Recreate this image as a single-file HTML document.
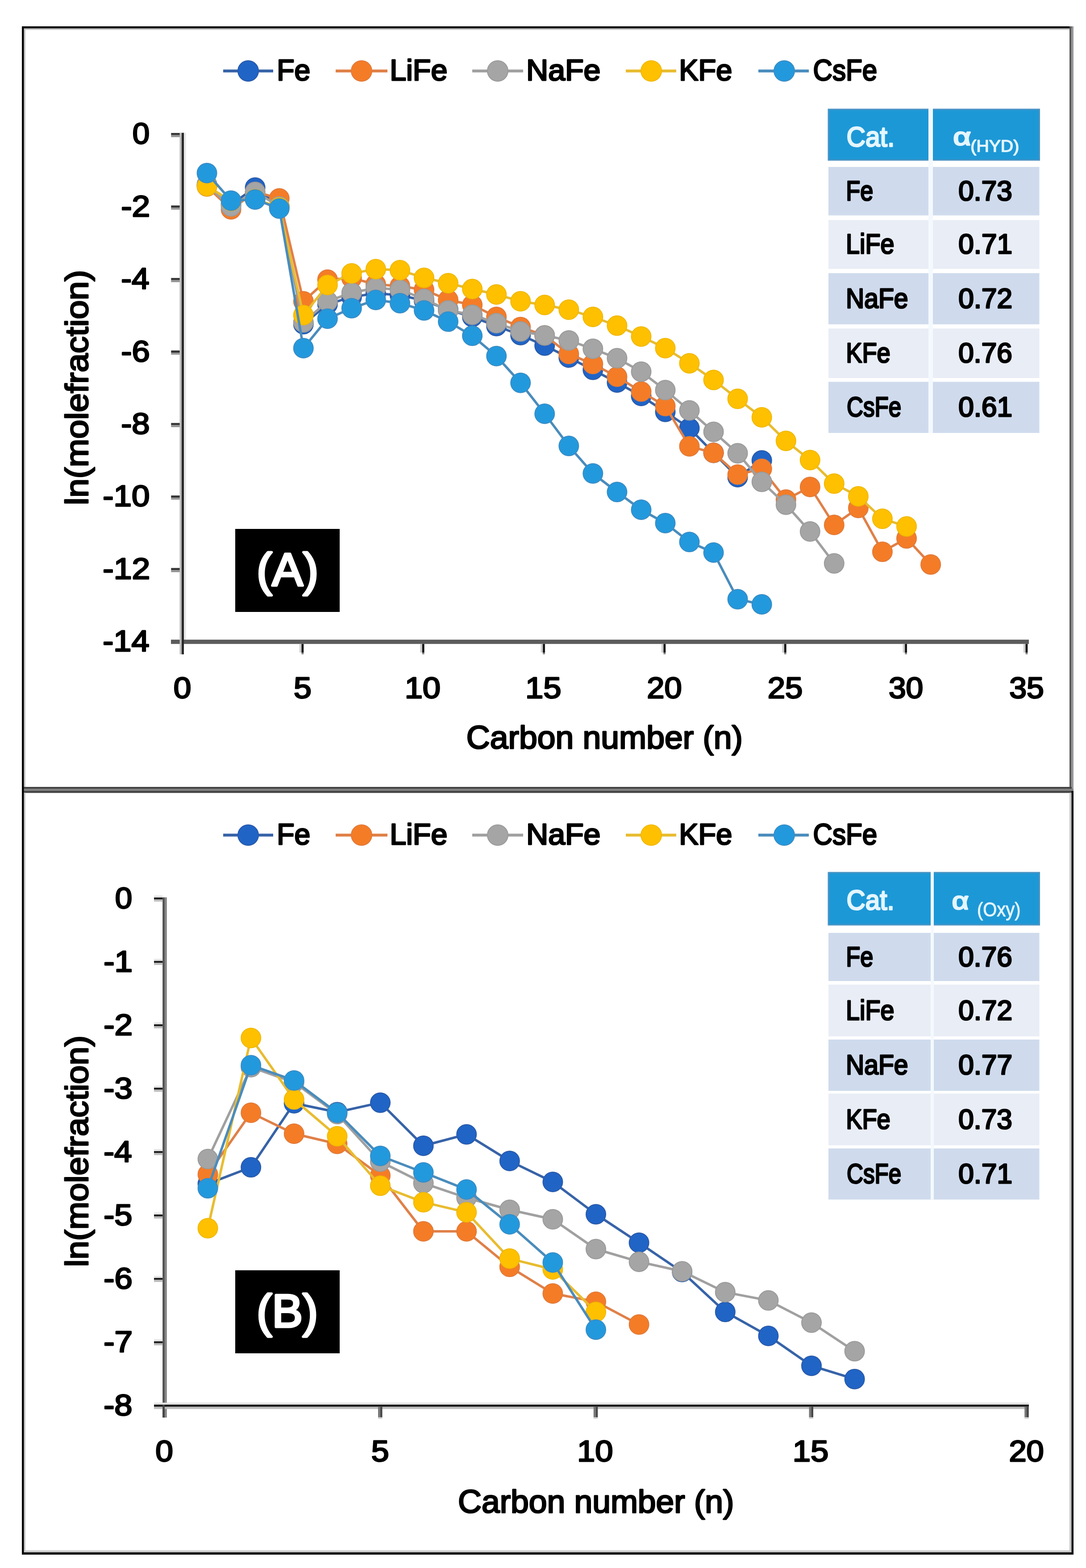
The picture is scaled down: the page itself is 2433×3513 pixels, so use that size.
<!DOCTYPE html><html><head><meta charset="utf-8"><title>ln(molefraction) vs Carbon number</title>
<style>html,body{margin:0;padding:0;background:#fff;overflow:hidden;}svg{display:block;}text{font-family:"Liberation Sans", Arial, sans-serif;font-kerning:none;}</style></head><body>
<svg width="2433" height="3513" viewBox="0 0 2433 3513">
<rect x="0" y="0" width="2433" height="3513" fill="#ffffff"/>
<rect x="53" y="63" width="2343" height="4" fill="#c8c8c8"/>
<rect x="53" y="63" width="4" height="1700" fill="#c8c8c8"/>
<rect x="49" y="59" width="2352" height="4.5" fill="#000"/>
<rect x="2396" y="59" width="4.5" height="1708" fill="#585858"/>
<rect x="2400.5" y="59" width="4.5" height="1711" fill="#979797"/>
<rect x="49" y="1763" width="2352" height="4" fill="#444"/>
<rect x="49" y="1767" width="2356" height="5" fill="#808080"/>
<rect x="49" y="1772" width="2356" height="4.5" fill="#444"/>
<rect x="53" y="1776" width="4" height="1702" fill="#c8c8c8"/>
<rect x="2396" y="1776" width="4.5" height="1702" fill="#c8c8c8"/>
<rect x="53" y="3473.5" width="2347" height="4.5" fill="#c8c8c8"/>
<rect x="2400.5" y="1772" width="4.5" height="1711" fill="#000"/>
<rect x="49" y="3478" width="2356" height="5" fill="#000"/>
<rect x="49" y="59" width="4.5" height="3424" fill="#000"/>
<line x1="500" y1="159.0" x2="612" y2="159.0" stroke="#3763a8" stroke-width="6.5"/>
<circle cx="556" cy="159.0" r="23.0" fill="#2064c6" stroke="#2a5aa8" stroke-width="2"/>
<text x="620.33" y="179.50" font-size="66.00" font-weight="normal" fill="#000" stroke="#000" stroke-width="3.20" stroke-linejoin="round" textLength="74.92" lengthAdjust="spacingAndGlyphs">Fe</text>
<line x1="752" y1="159.0" x2="868" y2="159.0" stroke="#e08048" stroke-width="6.5"/>
<circle cx="810" cy="159.0" r="23.0" fill="#f57c26" stroke="#e07a3a" stroke-width="2"/>
<text x="873.15" y="179.50" font-size="66.00" font-weight="normal" fill="#000" stroke="#000" stroke-width="3.20" stroke-linejoin="round" textLength="129.20" lengthAdjust="spacingAndGlyphs">LiFe</text>
<line x1="1058" y1="159.0" x2="1172" y2="159.0" stroke="#a0a0a0" stroke-width="6.5"/>
<circle cx="1115" cy="159.0" r="23.0" fill="#a5a5a5" stroke="#9a9a9a" stroke-width="2"/>
<text x="1179.02" y="179.50" font-size="66.00" font-weight="normal" fill="#000" stroke="#000" stroke-width="3.20" stroke-linejoin="round" textLength="166.41" lengthAdjust="spacingAndGlyphs">NaFe</text>
<line x1="1402" y1="159.0" x2="1515" y2="159.0" stroke="#e8bc30" stroke-width="6.5"/>
<circle cx="1459" cy="159.0" r="23.0" fill="#ffc000" stroke="#f0b800" stroke-width="2"/>
<text x="1521.28" y="179.50" font-size="66.00" font-weight="normal" fill="#000" stroke="#000" stroke-width="3.20" stroke-linejoin="round" textLength="119.01" lengthAdjust="spacingAndGlyphs">KFe</text>
<line x1="1699" y1="159.0" x2="1812" y2="159.0" stroke="#4a8cbc" stroke-width="6.5"/>
<circle cx="1757" cy="159.0" r="23.0" fill="#2399dd" stroke="#3a8cc4" stroke-width="2"/>
<text x="1821.55" y="179.50" font-size="66.00" font-weight="normal" fill="#000" stroke="#000" stroke-width="3.20" stroke-linejoin="round" textLength="143.52" lengthAdjust="spacingAndGlyphs">CsFe</text>
<rect x="383.00" y="1433.10" width="1922.00" height="9.60" fill="#5c5c5c"/>
<rect x="383.30" y="297.90" width="23.70" height="4.80" fill="#333"/>
<rect x="383.30" y="302.70" width="23.70" height="4.60" fill="#959595"/>
<text x="296.80" y="322.18" font-size="67.00" font-weight="normal" fill="#000" stroke="#000" stroke-width="3.00" stroke-linejoin="round" textLength="38.39" lengthAdjust="spacingAndGlyphs">0</text>
<rect x="383.30" y="460.34" width="23.70" height="4.80" fill="#333"/>
<rect x="383.30" y="465.14" width="23.70" height="4.60" fill="#959595"/>
<text x="271.26" y="484.62" font-size="67.00" font-weight="normal" fill="#000" stroke="#000" stroke-width="3.00" stroke-linejoin="round" textLength="64.92" lengthAdjust="spacingAndGlyphs">-2</text>
<rect x="383.30" y="622.78" width="23.70" height="4.80" fill="#333"/>
<rect x="383.30" y="627.58" width="23.70" height="4.60" fill="#959595"/>
<text x="271.34" y="647.06" font-size="67.00" font-weight="normal" fill="#000" stroke="#000" stroke-width="3.00" stroke-linejoin="round" textLength="63.24" lengthAdjust="spacingAndGlyphs">-4</text>
<rect x="383.30" y="785.22" width="23.70" height="4.80" fill="#333"/>
<rect x="383.30" y="790.02" width="23.70" height="4.60" fill="#959595"/>
<text x="271.28" y="809.50" font-size="67.00" font-weight="normal" fill="#000" stroke="#000" stroke-width="3.00" stroke-linejoin="round" textLength="64.40" lengthAdjust="spacingAndGlyphs">-6</text>
<rect x="383.30" y="947.66" width="23.70" height="4.80" fill="#333"/>
<rect x="383.30" y="952.46" width="23.70" height="4.60" fill="#959595"/>
<text x="271.28" y="971.94" font-size="67.00" font-weight="normal" fill="#000" stroke="#000" stroke-width="3.00" stroke-linejoin="round" textLength="64.36" lengthAdjust="spacingAndGlyphs">-8</text>
<rect x="383.30" y="1110.10" width="23.70" height="4.80" fill="#333"/>
<rect x="383.30" y="1114.90" width="23.70" height="4.60" fill="#959595"/>
<text x="230.27" y="1134.38" font-size="67.00" font-weight="normal" fill="#000" stroke="#000" stroke-width="3.00" stroke-linejoin="round" textLength="105.07" lengthAdjust="spacingAndGlyphs">-10</text>
<rect x="383.30" y="1272.54" width="23.70" height="4.80" fill="#333"/>
<rect x="383.30" y="1277.34" width="23.70" height="4.60" fill="#959595"/>
<text x="230.24" y="1296.82" font-size="67.00" font-weight="normal" fill="#000" stroke="#000" stroke-width="3.00" stroke-linejoin="round" textLength="105.94" lengthAdjust="spacingAndGlyphs">-12</text>
<text x="230.29" y="1459.26" font-size="67.00" font-weight="normal" fill="#000" stroke="#000" stroke-width="3.00" stroke-linejoin="round" textLength="104.32" lengthAdjust="spacingAndGlyphs">-14</text>
<rect x="402.50" y="297.50" width="4.50" height="1168.50" fill="#bdbdbd"/>
<rect x="407.00" y="297.50" width="5.00" height="1168.50" fill="#2a2a2a"/>
<rect x="412.00" y="297.50" width="4.80" height="1135.50" fill="#e8e8e8"/>
<rect x="670.85" y="1442.70" width="4.60" height="19.30" fill="#cfcfcf"/>
<rect x="675.45" y="1442.70" width="4.80" height="19.30" fill="#161616"/>
<rect x="675.45" y="1462.00" width="4.80" height="4.00" fill="#888"/>
<text x="657.98" y="1564.00" font-size="67.00" font-weight="normal" fill="#000" stroke="#000" stroke-width="3.00" stroke-linejoin="round" textLength="39.88" lengthAdjust="spacingAndGlyphs">5</text>
<rect x="941.20" y="1442.70" width="4.60" height="19.30" fill="#cfcfcf"/>
<rect x="945.80" y="1442.70" width="4.80" height="19.30" fill="#161616"/>
<rect x="945.80" y="1462.00" width="4.80" height="4.00" fill="#888"/>
<text x="906.70" y="1564.00" font-size="67.00" font-weight="normal" fill="#000" stroke="#000" stroke-width="3.00" stroke-linejoin="round" textLength="80.32" lengthAdjust="spacingAndGlyphs">10</text>
<rect x="1211.55" y="1442.70" width="4.60" height="19.30" fill="#cfcfcf"/>
<rect x="1216.15" y="1442.70" width="4.80" height="19.30" fill="#161616"/>
<rect x="1216.15" y="1462.00" width="4.80" height="4.00" fill="#888"/>
<text x="1177.03" y="1564.00" font-size="67.00" font-weight="normal" fill="#000" stroke="#000" stroke-width="3.00" stroke-linejoin="round" textLength="80.56" lengthAdjust="spacingAndGlyphs">15</text>
<rect x="1481.90" y="1442.70" width="4.60" height="19.30" fill="#cfcfcf"/>
<rect x="1486.50" y="1442.70" width="4.80" height="19.30" fill="#161616"/>
<rect x="1486.50" y="1462.00" width="4.80" height="4.00" fill="#888"/>
<text x="1449.36" y="1564.00" font-size="67.00" font-weight="normal" fill="#000" stroke="#000" stroke-width="3.00" stroke-linejoin="round" textLength="78.29" lengthAdjust="spacingAndGlyphs">20</text>
<rect x="1752.25" y="1442.70" width="4.60" height="19.30" fill="#cfcfcf"/>
<rect x="1756.85" y="1442.70" width="4.80" height="19.30" fill="#161616"/>
<rect x="1756.85" y="1462.00" width="4.80" height="4.00" fill="#888"/>
<text x="1719.70" y="1564.00" font-size="67.00" font-weight="normal" fill="#000" stroke="#000" stroke-width="3.00" stroke-linejoin="round" textLength="78.51" lengthAdjust="spacingAndGlyphs">25</text>
<rect x="2022.60" y="1442.70" width="4.60" height="19.30" fill="#cfcfcf"/>
<rect x="2027.20" y="1442.70" width="4.80" height="19.30" fill="#161616"/>
<rect x="2027.20" y="1462.00" width="4.80" height="4.00" fill="#888"/>
<text x="1990.95" y="1564.00" font-size="67.00" font-weight="normal" fill="#000" stroke="#000" stroke-width="3.00" stroke-linejoin="round" textLength="77.37" lengthAdjust="spacingAndGlyphs">30</text>
<rect x="2292.95" y="1442.70" width="4.60" height="19.30" fill="#cfcfcf"/>
<rect x="2297.55" y="1442.70" width="4.80" height="19.30" fill="#161616"/>
<rect x="2297.55" y="1462.00" width="4.80" height="4.00" fill="#888"/>
<text x="2261.29" y="1564.00" font-size="67.00" font-weight="normal" fill="#000" stroke="#000" stroke-width="3.00" stroke-linejoin="round" textLength="77.59" lengthAdjust="spacingAndGlyphs">35</text>
<text x="388.72" y="1564.00" font-size="67.00" font-weight="normal" fill="#000" stroke="#000" stroke-width="3.00" stroke-linejoin="round" textLength="39.56" lengthAdjust="spacingAndGlyphs">0</text>
<text x="-1131.65" y="0.00" font-size="72.00" font-weight="normal" fill="#000" stroke="#000" stroke-width="3.00" stroke-linejoin="round" textLength="526.89" lengthAdjust="spacingAndGlyphs" transform="translate(196.5,0) rotate(-90)">ln(molefraction)</text>
<text x="1044.78" y="1677.00" font-size="72.00" font-weight="normal" fill="#000" stroke="#000" stroke-width="3.00" stroke-linejoin="round" textLength="619.27" lengthAdjust="spacingAndGlyphs">Carbon number (n)</text>
<rect x="527" y="1185" width="234" height="186" fill="#000"/>
<text x="575.06" y="1311.50" font-size="104.00" font-weight="normal" fill="#fff" stroke="#fff" stroke-width="5.00" stroke-linejoin="round" textLength="138.37" lengthAdjust="spacingAndGlyphs">(A)</text>
<polyline points="463.6,413.7 517.6,458.3 571.6,420.2 625.7,462.4 679.8,726.3 733.8,681.6 787.8,665.4 841.9,657.3 896.0,661.3 950.0,673.5 1004.0,693.8 1058.1,710.1 1112.2,730.4 1166.2,750.7 1220.2,774.2 1274.3,801.0 1328.3,828.6 1382.4,857.0 1436.5,887.1 1490.5,922.8 1544.5,959.3 1598.6,1014.6 1652.6,1069.0 1706.7,1031.6" fill="none" stroke="#3763a8" stroke-width="5.5" stroke-linejoin="round"/>
<circle cx="463.6" cy="413.7" r="22.0" fill="#2064c6" stroke="#2a5aa8" stroke-width="2"/>
<circle cx="517.6" cy="458.3" r="22.0" fill="#2064c6" stroke="#2a5aa8" stroke-width="2"/>
<circle cx="571.6" cy="420.2" r="22.0" fill="#2064c6" stroke="#2a5aa8" stroke-width="2"/>
<circle cx="625.7" cy="462.4" r="22.0" fill="#2064c6" stroke="#2a5aa8" stroke-width="2"/>
<circle cx="679.8" cy="726.3" r="22.0" fill="#2064c6" stroke="#2a5aa8" stroke-width="2"/>
<circle cx="733.8" cy="681.6" r="22.0" fill="#2064c6" stroke="#2a5aa8" stroke-width="2"/>
<circle cx="787.8" cy="665.4" r="22.0" fill="#2064c6" stroke="#2a5aa8" stroke-width="2"/>
<circle cx="841.9" cy="657.3" r="22.0" fill="#2064c6" stroke="#2a5aa8" stroke-width="2"/>
<circle cx="896.0" cy="661.3" r="22.0" fill="#2064c6" stroke="#2a5aa8" stroke-width="2"/>
<circle cx="950.0" cy="673.5" r="22.0" fill="#2064c6" stroke="#2a5aa8" stroke-width="2"/>
<circle cx="1004.0" cy="693.8" r="22.0" fill="#2064c6" stroke="#2a5aa8" stroke-width="2"/>
<circle cx="1058.1" cy="710.1" r="22.0" fill="#2064c6" stroke="#2a5aa8" stroke-width="2"/>
<circle cx="1112.2" cy="730.4" r="22.0" fill="#2064c6" stroke="#2a5aa8" stroke-width="2"/>
<circle cx="1166.2" cy="750.7" r="22.0" fill="#2064c6" stroke="#2a5aa8" stroke-width="2"/>
<circle cx="1220.2" cy="774.2" r="22.0" fill="#2064c6" stroke="#2a5aa8" stroke-width="2"/>
<circle cx="1274.3" cy="801.0" r="22.0" fill="#2064c6" stroke="#2a5aa8" stroke-width="2"/>
<circle cx="1328.3" cy="828.6" r="22.0" fill="#2064c6" stroke="#2a5aa8" stroke-width="2"/>
<circle cx="1382.4" cy="857.0" r="22.0" fill="#2064c6" stroke="#2a5aa8" stroke-width="2"/>
<circle cx="1436.5" cy="887.1" r="22.0" fill="#2064c6" stroke="#2a5aa8" stroke-width="2"/>
<circle cx="1490.5" cy="922.8" r="22.0" fill="#2064c6" stroke="#2a5aa8" stroke-width="2"/>
<circle cx="1544.5" cy="959.3" r="22.0" fill="#2064c6" stroke="#2a5aa8" stroke-width="2"/>
<circle cx="1598.6" cy="1014.6" r="22.0" fill="#2064c6" stroke="#2a5aa8" stroke-width="2"/>
<circle cx="1652.6" cy="1069.0" r="22.0" fill="#2064c6" stroke="#2a5aa8" stroke-width="2"/>
<circle cx="1706.7" cy="1031.6" r="22.0" fill="#2064c6" stroke="#2a5aa8" stroke-width="2"/>
<polyline points="463.6,417.7 517.6,468.9 571.6,429.9 625.7,444.5 679.8,675.1 733.8,626.4 787.8,623.2 841.9,637.0 896.0,641.0 950.0,649.2 1004.0,671.9 1058.1,683.3 1112.2,710.1 1166.2,732.8 1220.2,751.5 1274.3,792.9 1328.3,815.6 1382.4,844.0 1436.5,877.3 1490.5,909.8 1544.5,999.9 1598.6,1014.6 1652.6,1063.3 1706.7,1050.3 1760.8,1119.3 1814.8,1090.9 1868.8,1176.1 1922.9,1138.0 1976.9,1236.2 2031.0,1206.2 2085.1,1264.7" fill="none" stroke="#e08048" stroke-width="5.5" stroke-linejoin="round"/>
<circle cx="463.6" cy="417.7" r="22.0" fill="#f57c26" stroke="#e07a3a" stroke-width="2"/>
<circle cx="517.6" cy="468.9" r="22.0" fill="#f57c26" stroke="#e07a3a" stroke-width="2"/>
<circle cx="571.6" cy="429.9" r="22.0" fill="#f57c26" stroke="#e07a3a" stroke-width="2"/>
<circle cx="625.7" cy="444.5" r="22.0" fill="#f57c26" stroke="#e07a3a" stroke-width="2"/>
<circle cx="679.8" cy="675.1" r="22.0" fill="#f57c26" stroke="#e07a3a" stroke-width="2"/>
<circle cx="733.8" cy="626.4" r="22.0" fill="#f57c26" stroke="#e07a3a" stroke-width="2"/>
<circle cx="787.8" cy="623.2" r="22.0" fill="#f57c26" stroke="#e07a3a" stroke-width="2"/>
<circle cx="841.9" cy="637.0" r="22.0" fill="#f57c26" stroke="#e07a3a" stroke-width="2"/>
<circle cx="896.0" cy="641.0" r="22.0" fill="#f57c26" stroke="#e07a3a" stroke-width="2"/>
<circle cx="950.0" cy="649.2" r="22.0" fill="#f57c26" stroke="#e07a3a" stroke-width="2"/>
<circle cx="1004.0" cy="671.9" r="22.0" fill="#f57c26" stroke="#e07a3a" stroke-width="2"/>
<circle cx="1058.1" cy="683.3" r="22.0" fill="#f57c26" stroke="#e07a3a" stroke-width="2"/>
<circle cx="1112.2" cy="710.1" r="22.0" fill="#f57c26" stroke="#e07a3a" stroke-width="2"/>
<circle cx="1166.2" cy="732.8" r="22.0" fill="#f57c26" stroke="#e07a3a" stroke-width="2"/>
<circle cx="1220.2" cy="751.5" r="22.0" fill="#f57c26" stroke="#e07a3a" stroke-width="2"/>
<circle cx="1274.3" cy="792.9" r="22.0" fill="#f57c26" stroke="#e07a3a" stroke-width="2"/>
<circle cx="1328.3" cy="815.6" r="22.0" fill="#f57c26" stroke="#e07a3a" stroke-width="2"/>
<circle cx="1382.4" cy="844.0" r="22.0" fill="#f57c26" stroke="#e07a3a" stroke-width="2"/>
<circle cx="1436.5" cy="877.3" r="22.0" fill="#f57c26" stroke="#e07a3a" stroke-width="2"/>
<circle cx="1490.5" cy="909.8" r="22.0" fill="#f57c26" stroke="#e07a3a" stroke-width="2"/>
<circle cx="1544.5" cy="999.9" r="22.0" fill="#f57c26" stroke="#e07a3a" stroke-width="2"/>
<circle cx="1598.6" cy="1014.6" r="22.0" fill="#f57c26" stroke="#e07a3a" stroke-width="2"/>
<circle cx="1652.6" cy="1063.3" r="22.0" fill="#f57c26" stroke="#e07a3a" stroke-width="2"/>
<circle cx="1706.7" cy="1050.3" r="22.0" fill="#f57c26" stroke="#e07a3a" stroke-width="2"/>
<circle cx="1760.8" cy="1119.3" r="22.0" fill="#f57c26" stroke="#e07a3a" stroke-width="2"/>
<circle cx="1814.8" cy="1090.9" r="22.0" fill="#f57c26" stroke="#e07a3a" stroke-width="2"/>
<circle cx="1868.8" cy="1176.1" r="22.0" fill="#f57c26" stroke="#e07a3a" stroke-width="2"/>
<circle cx="1922.9" cy="1138.0" r="22.0" fill="#f57c26" stroke="#e07a3a" stroke-width="2"/>
<circle cx="1976.9" cy="1236.2" r="22.0" fill="#f57c26" stroke="#e07a3a" stroke-width="2"/>
<circle cx="2031.0" cy="1206.2" r="22.0" fill="#f57c26" stroke="#e07a3a" stroke-width="2"/>
<circle cx="2085.1" cy="1264.7" r="22.0" fill="#f57c26" stroke="#e07a3a" stroke-width="2"/>
<polyline points="463.6,415.3 517.6,462.4 571.6,429.9 625.7,462.4 679.8,722.2 733.8,675.1 787.8,655.7 841.9,645.1 896.0,649.2 950.0,669.5 1004.0,695.4 1058.1,705.2 1112.2,723.9 1166.2,742.5 1220.2,751.5 1274.3,762.8 1328.3,781.5 1382.4,802.6 1436.5,832.7 1490.5,874.1 1544.5,919.6 1598.6,967.5 1652.6,1015.4 1706.7,1079.5 1760.8,1130.7 1814.8,1190.8 1868.8,1262.2" fill="none" stroke="#a0a0a0" stroke-width="5.5" stroke-linejoin="round"/>
<circle cx="463.6" cy="415.3" r="22.0" fill="#a5a5a5" stroke="#9a9a9a" stroke-width="2"/>
<circle cx="517.6" cy="462.4" r="22.0" fill="#a5a5a5" stroke="#9a9a9a" stroke-width="2"/>
<circle cx="571.6" cy="429.9" r="22.0" fill="#a5a5a5" stroke="#9a9a9a" stroke-width="2"/>
<circle cx="625.7" cy="462.4" r="22.0" fill="#a5a5a5" stroke="#9a9a9a" stroke-width="2"/>
<circle cx="679.8" cy="722.2" r="22.0" fill="#a5a5a5" stroke="#9a9a9a" stroke-width="2"/>
<circle cx="733.8" cy="675.1" r="22.0" fill="#a5a5a5" stroke="#9a9a9a" stroke-width="2"/>
<circle cx="787.8" cy="655.7" r="22.0" fill="#a5a5a5" stroke="#9a9a9a" stroke-width="2"/>
<circle cx="841.9" cy="645.1" r="22.0" fill="#a5a5a5" stroke="#9a9a9a" stroke-width="2"/>
<circle cx="896.0" cy="649.2" r="22.0" fill="#a5a5a5" stroke="#9a9a9a" stroke-width="2"/>
<circle cx="950.0" cy="669.5" r="22.0" fill="#a5a5a5" stroke="#9a9a9a" stroke-width="2"/>
<circle cx="1004.0" cy="695.4" r="22.0" fill="#a5a5a5" stroke="#9a9a9a" stroke-width="2"/>
<circle cx="1058.1" cy="705.2" r="22.0" fill="#a5a5a5" stroke="#9a9a9a" stroke-width="2"/>
<circle cx="1112.2" cy="723.9" r="22.0" fill="#a5a5a5" stroke="#9a9a9a" stroke-width="2"/>
<circle cx="1166.2" cy="742.5" r="22.0" fill="#a5a5a5" stroke="#9a9a9a" stroke-width="2"/>
<circle cx="1220.2" cy="751.5" r="22.0" fill="#a5a5a5" stroke="#9a9a9a" stroke-width="2"/>
<circle cx="1274.3" cy="762.8" r="22.0" fill="#a5a5a5" stroke="#9a9a9a" stroke-width="2"/>
<circle cx="1328.3" cy="781.5" r="22.0" fill="#a5a5a5" stroke="#9a9a9a" stroke-width="2"/>
<circle cx="1382.4" cy="802.6" r="22.0" fill="#a5a5a5" stroke="#9a9a9a" stroke-width="2"/>
<circle cx="1436.5" cy="832.7" r="22.0" fill="#a5a5a5" stroke="#9a9a9a" stroke-width="2"/>
<circle cx="1490.5" cy="874.1" r="22.0" fill="#a5a5a5" stroke="#9a9a9a" stroke-width="2"/>
<circle cx="1544.5" cy="919.6" r="22.0" fill="#a5a5a5" stroke="#9a9a9a" stroke-width="2"/>
<circle cx="1598.6" cy="967.5" r="22.0" fill="#a5a5a5" stroke="#9a9a9a" stroke-width="2"/>
<circle cx="1652.6" cy="1015.4" r="22.0" fill="#a5a5a5" stroke="#9a9a9a" stroke-width="2"/>
<circle cx="1706.7" cy="1079.5" r="22.0" fill="#a5a5a5" stroke="#9a9a9a" stroke-width="2"/>
<circle cx="1760.8" cy="1130.7" r="22.0" fill="#a5a5a5" stroke="#9a9a9a" stroke-width="2"/>
<circle cx="1814.8" cy="1190.8" r="22.0" fill="#a5a5a5" stroke="#9a9a9a" stroke-width="2"/>
<circle cx="1868.8" cy="1262.2" r="22.0" fill="#a5a5a5" stroke="#9a9a9a" stroke-width="2"/>
<polyline points="463.6,416.9 517.6,450.2 571.6,446.2 625.7,464.8 679.8,706.0 733.8,638.6 787.8,612.6 841.9,602.9 896.0,605.3 950.0,622.4 1004.0,634.5 1058.1,647.5 1112.2,659.7 1166.2,675.1 1220.2,683.3 1274.3,693.8 1328.3,710.1 1382.4,729.5 1436.5,753.9 1490.5,779.9 1544.5,814.0 1598.6,851.3 1652.6,893.6 1706.7,935.0 1760.8,987.8 1814.8,1030.8 1868.8,1083.6 1922.9,1112.0 1976.9,1162.3 2031.0,1179.4" fill="none" stroke="#e8bc30" stroke-width="5.5" stroke-linejoin="round"/>
<circle cx="463.6" cy="416.9" r="22.0" fill="#ffc000" stroke="#f0b800" stroke-width="2"/>
<circle cx="517.6" cy="450.2" r="22.0" fill="#ffc000" stroke="#f0b800" stroke-width="2"/>
<circle cx="571.6" cy="446.2" r="22.0" fill="#ffc000" stroke="#f0b800" stroke-width="2"/>
<circle cx="625.7" cy="464.8" r="22.0" fill="#ffc000" stroke="#f0b800" stroke-width="2"/>
<circle cx="679.8" cy="706.0" r="22.0" fill="#ffc000" stroke="#f0b800" stroke-width="2"/>
<circle cx="733.8" cy="638.6" r="22.0" fill="#ffc000" stroke="#f0b800" stroke-width="2"/>
<circle cx="787.8" cy="612.6" r="22.0" fill="#ffc000" stroke="#f0b800" stroke-width="2"/>
<circle cx="841.9" cy="602.9" r="22.0" fill="#ffc000" stroke="#f0b800" stroke-width="2"/>
<circle cx="896.0" cy="605.3" r="22.0" fill="#ffc000" stroke="#f0b800" stroke-width="2"/>
<circle cx="950.0" cy="622.4" r="22.0" fill="#ffc000" stroke="#f0b800" stroke-width="2"/>
<circle cx="1004.0" cy="634.5" r="22.0" fill="#ffc000" stroke="#f0b800" stroke-width="2"/>
<circle cx="1058.1" cy="647.5" r="22.0" fill="#ffc000" stroke="#f0b800" stroke-width="2"/>
<circle cx="1112.2" cy="659.7" r="22.0" fill="#ffc000" stroke="#f0b800" stroke-width="2"/>
<circle cx="1166.2" cy="675.1" r="22.0" fill="#ffc000" stroke="#f0b800" stroke-width="2"/>
<circle cx="1220.2" cy="683.3" r="22.0" fill="#ffc000" stroke="#f0b800" stroke-width="2"/>
<circle cx="1274.3" cy="693.8" r="22.0" fill="#ffc000" stroke="#f0b800" stroke-width="2"/>
<circle cx="1328.3" cy="710.1" r="22.0" fill="#ffc000" stroke="#f0b800" stroke-width="2"/>
<circle cx="1382.4" cy="729.5" r="22.0" fill="#ffc000" stroke="#f0b800" stroke-width="2"/>
<circle cx="1436.5" cy="753.9" r="22.0" fill="#ffc000" stroke="#f0b800" stroke-width="2"/>
<circle cx="1490.5" cy="779.9" r="22.0" fill="#ffc000" stroke="#f0b800" stroke-width="2"/>
<circle cx="1544.5" cy="814.0" r="22.0" fill="#ffc000" stroke="#f0b800" stroke-width="2"/>
<circle cx="1598.6" cy="851.3" r="22.0" fill="#ffc000" stroke="#f0b800" stroke-width="2"/>
<circle cx="1652.6" cy="893.6" r="22.0" fill="#ffc000" stroke="#f0b800" stroke-width="2"/>
<circle cx="1706.7" cy="935.0" r="22.0" fill="#ffc000" stroke="#f0b800" stroke-width="2"/>
<circle cx="1760.8" cy="987.8" r="22.0" fill="#ffc000" stroke="#f0b800" stroke-width="2"/>
<circle cx="1814.8" cy="1030.8" r="22.0" fill="#ffc000" stroke="#f0b800" stroke-width="2"/>
<circle cx="1868.8" cy="1083.6" r="22.0" fill="#ffc000" stroke="#f0b800" stroke-width="2"/>
<circle cx="1922.9" cy="1112.0" r="22.0" fill="#ffc000" stroke="#f0b800" stroke-width="2"/>
<circle cx="1976.9" cy="1162.3" r="22.0" fill="#ffc000" stroke="#f0b800" stroke-width="2"/>
<circle cx="2031.0" cy="1179.4" r="22.0" fill="#ffc000" stroke="#f0b800" stroke-width="2"/>
<polyline points="463.6,387.7 517.6,449.4 571.6,447.0 625.7,467.3 679.8,779.9 733.8,714.1 787.8,690.6 841.9,671.9 896.0,679.2 950.0,695.4 1004.0,720.6 1058.1,752.3 1112.2,797.8 1166.2,857.8 1220.2,926.9 1274.3,999.1 1328.3,1060.8 1382.4,1102.3 1436.5,1142.0 1490.5,1172.1 1544.5,1214.3 1598.6,1237.9 1652.6,1342.6 1706.7,1354.0" fill="none" stroke="#4a8cbc" stroke-width="5.5" stroke-linejoin="round"/>
<circle cx="463.6" cy="387.7" r="22.0" fill="#2399dd" stroke="#3a8cc4" stroke-width="2"/>
<circle cx="517.6" cy="449.4" r="22.0" fill="#2399dd" stroke="#3a8cc4" stroke-width="2"/>
<circle cx="571.6" cy="447.0" r="22.0" fill="#2399dd" stroke="#3a8cc4" stroke-width="2"/>
<circle cx="625.7" cy="467.3" r="22.0" fill="#2399dd" stroke="#3a8cc4" stroke-width="2"/>
<circle cx="679.8" cy="779.9" r="22.0" fill="#2399dd" stroke="#3a8cc4" stroke-width="2"/>
<circle cx="733.8" cy="714.1" r="22.0" fill="#2399dd" stroke="#3a8cc4" stroke-width="2"/>
<circle cx="787.8" cy="690.6" r="22.0" fill="#2399dd" stroke="#3a8cc4" stroke-width="2"/>
<circle cx="841.9" cy="671.9" r="22.0" fill="#2399dd" stroke="#3a8cc4" stroke-width="2"/>
<circle cx="896.0" cy="679.2" r="22.0" fill="#2399dd" stroke="#3a8cc4" stroke-width="2"/>
<circle cx="950.0" cy="695.4" r="22.0" fill="#2399dd" stroke="#3a8cc4" stroke-width="2"/>
<circle cx="1004.0" cy="720.6" r="22.0" fill="#2399dd" stroke="#3a8cc4" stroke-width="2"/>
<circle cx="1058.1" cy="752.3" r="22.0" fill="#2399dd" stroke="#3a8cc4" stroke-width="2"/>
<circle cx="1112.2" cy="797.8" r="22.0" fill="#2399dd" stroke="#3a8cc4" stroke-width="2"/>
<circle cx="1166.2" cy="857.8" r="22.0" fill="#2399dd" stroke="#3a8cc4" stroke-width="2"/>
<circle cx="1220.2" cy="926.9" r="22.0" fill="#2399dd" stroke="#3a8cc4" stroke-width="2"/>
<circle cx="1274.3" cy="999.1" r="22.0" fill="#2399dd" stroke="#3a8cc4" stroke-width="2"/>
<circle cx="1328.3" cy="1060.8" r="22.0" fill="#2399dd" stroke="#3a8cc4" stroke-width="2"/>
<circle cx="1382.4" cy="1102.3" r="22.0" fill="#2399dd" stroke="#3a8cc4" stroke-width="2"/>
<circle cx="1436.5" cy="1142.0" r="22.0" fill="#2399dd" stroke="#3a8cc4" stroke-width="2"/>
<circle cx="1490.5" cy="1172.1" r="22.0" fill="#2399dd" stroke="#3a8cc4" stroke-width="2"/>
<circle cx="1544.5" cy="1214.3" r="22.0" fill="#2399dd" stroke="#3a8cc4" stroke-width="2"/>
<circle cx="1598.6" cy="1237.9" r="22.0" fill="#2399dd" stroke="#3a8cc4" stroke-width="2"/>
<circle cx="1652.6" cy="1342.6" r="22.0" fill="#2399dd" stroke="#3a8cc4" stroke-width="2"/>
<circle cx="1706.7" cy="1354.0" r="22.0" fill="#2399dd" stroke="#3a8cc4" stroke-width="2"/>
<rect x="1856" y="245.0" width="472.5" height="113.5" fill="#1d98d6" stroke="#4a94c4" stroke-width="3"/>
<rect x="1856" y="374.0" width="472.5" height="108.6" fill="#cfdbed"/>
<rect x="1856" y="493.0" width="472.5" height="109.5" fill="#e9edf6"/>
<rect x="1856" y="612.0" width="472.5" height="114.6" fill="#cfdbed"/>
<rect x="1856" y="736.0" width="472.5" height="111.0" fill="#e9edf6"/>
<rect x="1856" y="855.4" width="472.5" height="114.6" fill="#cfdbed"/>
<rect x="2080.0" y="243.0" width="10.0" height="727.0" fill="#f4f9ff"/>
<text x="1896.52" y="327.50" font-size="63.00" font-weight="normal" fill="#e4f6ff" stroke="#e4f6ff" stroke-width="3.00" stroke-linejoin="round" textLength="107.75" lengthAdjust="spacingAndGlyphs">Cat.</text>
<text x="2135.60" y="325.00" font-size="56.00" font-weight="normal" fill="#e4f6ff" stroke="#e4f6ff" stroke-width="3.00" stroke-linejoin="round" textLength="39.88" lengthAdjust="spacingAndGlyphs">α</text>
<text x="2174.37" y="339.50" font-size="37.00" font-weight="normal" fill="#e4f6ff" stroke="#e4f6ff" stroke-width="1.60" stroke-linejoin="round" textLength="108.86" lengthAdjust="spacingAndGlyphs">(HYD)</text>
<text x="1895.31" y="448.80" font-size="62.50" font-weight="normal" fill="#000" stroke="#000" stroke-width="3.20" stroke-linejoin="round" textLength="61.01" lengthAdjust="spacingAndGlyphs">Fe</text>
<text x="2147.18" y="448.80" font-size="62.50" font-weight="normal" fill="#000" stroke="#000" stroke-width="3.20" stroke-linejoin="round" textLength="120.44" lengthAdjust="spacingAndGlyphs">0.73</text>
<text x="1895.03" y="568.25" font-size="62.50" font-weight="normal" fill="#000" stroke="#000" stroke-width="3.20" stroke-linejoin="round" textLength="108.45" lengthAdjust="spacingAndGlyphs">LiFe</text>
<text x="2147.18" y="568.25" font-size="62.50" font-weight="normal" fill="#000" stroke="#000" stroke-width="3.20" stroke-linejoin="round" textLength="120.75" lengthAdjust="spacingAndGlyphs">0.71</text>
<text x="1894.92" y="689.80" font-size="62.50" font-weight="normal" fill="#000" stroke="#000" stroke-width="3.20" stroke-linejoin="round" textLength="139.62" lengthAdjust="spacingAndGlyphs">NaFe</text>
<text x="2147.17" y="689.80" font-size="62.50" font-weight="normal" fill="#000" stroke="#000" stroke-width="3.20" stroke-linejoin="round" textLength="120.85" lengthAdjust="spacingAndGlyphs">0.72</text>
<text x="1895.14" y="812.00" font-size="62.50" font-weight="normal" fill="#000" stroke="#000" stroke-width="3.20" stroke-linejoin="round" textLength="99.67" lengthAdjust="spacingAndGlyphs">KFe</text>
<text x="2147.18" y="812.00" font-size="62.50" font-weight="normal" fill="#000" stroke="#000" stroke-width="3.20" stroke-linejoin="round" textLength="120.44" lengthAdjust="spacingAndGlyphs">0.76</text>
<text x="1897.00" y="933.20" font-size="62.50" font-weight="normal" fill="#000" stroke="#000" stroke-width="3.20" stroke-linejoin="round" textLength="122.27" lengthAdjust="spacingAndGlyphs">CsFe</text>
<text x="2147.18" y="933.20" font-size="62.50" font-weight="normal" fill="#000" stroke="#000" stroke-width="3.20" stroke-linejoin="round" textLength="120.75" lengthAdjust="spacingAndGlyphs">0.61</text>
<line x1="500" y1="1871.0" x2="612" y2="1871.0" stroke="#3763a8" stroke-width="6.5"/>
<circle cx="556" cy="1871.0" r="23.0" fill="#2064c6" stroke="#2a5aa8" stroke-width="2"/>
<text x="620.33" y="1891.50" font-size="66.00" font-weight="normal" fill="#000" stroke="#000" stroke-width="3.20" stroke-linejoin="round" textLength="74.92" lengthAdjust="spacingAndGlyphs">Fe</text>
<line x1="752" y1="1871.0" x2="868" y2="1871.0" stroke="#e08048" stroke-width="6.5"/>
<circle cx="810" cy="1871.0" r="23.0" fill="#f57c26" stroke="#e07a3a" stroke-width="2"/>
<text x="873.15" y="1891.50" font-size="66.00" font-weight="normal" fill="#000" stroke="#000" stroke-width="3.20" stroke-linejoin="round" textLength="129.20" lengthAdjust="spacingAndGlyphs">LiFe</text>
<line x1="1058" y1="1871.0" x2="1172" y2="1871.0" stroke="#a0a0a0" stroke-width="6.5"/>
<circle cx="1115" cy="1871.0" r="23.0" fill="#a5a5a5" stroke="#9a9a9a" stroke-width="2"/>
<text x="1179.02" y="1891.50" font-size="66.00" font-weight="normal" fill="#000" stroke="#000" stroke-width="3.20" stroke-linejoin="round" textLength="166.41" lengthAdjust="spacingAndGlyphs">NaFe</text>
<line x1="1402" y1="1871.0" x2="1515" y2="1871.0" stroke="#e8bc30" stroke-width="6.5"/>
<circle cx="1459" cy="1871.0" r="23.0" fill="#ffc000" stroke="#f0b800" stroke-width="2"/>
<text x="1521.28" y="1891.50" font-size="66.00" font-weight="normal" fill="#000" stroke="#000" stroke-width="3.20" stroke-linejoin="round" textLength="119.01" lengthAdjust="spacingAndGlyphs">KFe</text>
<line x1="1699" y1="1871.0" x2="1812" y2="1871.0" stroke="#4a8cbc" stroke-width="6.5"/>
<circle cx="1757" cy="1871.0" r="23.0" fill="#2399dd" stroke="#3a8cc4" stroke-width="2"/>
<text x="1821.55" y="1891.50" font-size="66.00" font-weight="normal" fill="#000" stroke="#000" stroke-width="3.20" stroke-linejoin="round" textLength="143.52" lengthAdjust="spacingAndGlyphs">CsFe</text>
<rect x="364.20" y="2010.50" width="4.70" height="1165.50" fill="#505050"/>
<rect x="368.90" y="2010.50" width="4.90" height="1165.50" fill="#868686"/>
<rect x="345.00" y="2006.20" width="19.20" height="4.55" fill="#e6e6e6"/>
<rect x="345.00" y="2010.75" width="19.20" height="4.50" fill="#1e1e1e"/>
<rect x="345.00" y="2015.25" width="19.20" height="4.55" fill="#bcbcbc"/>
<text x="257.80" y="2034.88" font-size="67.00" font-weight="normal" fill="#000" stroke="#000" stroke-width="3.00" stroke-linejoin="round" textLength="38.39" lengthAdjust="spacingAndGlyphs">0</text>
<rect x="345.00" y="2148.25" width="19.20" height="4.55" fill="#e6e6e6"/>
<rect x="345.00" y="2152.80" width="19.20" height="4.50" fill="#1e1e1e"/>
<rect x="345.00" y="2157.30" width="19.20" height="4.55" fill="#bcbcbc"/>
<text x="232.26" y="2176.93" font-size="67.00" font-weight="normal" fill="#000" stroke="#000" stroke-width="3.00" stroke-linejoin="round" textLength="64.80" lengthAdjust="spacingAndGlyphs">-1</text>
<rect x="345.00" y="2290.30" width="19.20" height="4.55" fill="#e6e6e6"/>
<rect x="345.00" y="2294.85" width="19.20" height="4.50" fill="#1e1e1e"/>
<rect x="345.00" y="2299.35" width="19.20" height="4.55" fill="#bcbcbc"/>
<text x="232.26" y="2318.98" font-size="67.00" font-weight="normal" fill="#000" stroke="#000" stroke-width="3.00" stroke-linejoin="round" textLength="64.92" lengthAdjust="spacingAndGlyphs">-2</text>
<rect x="345.00" y="2432.35" width="19.20" height="4.55" fill="#e6e6e6"/>
<rect x="345.00" y="2436.90" width="19.20" height="4.50" fill="#1e1e1e"/>
<rect x="345.00" y="2441.40" width="19.20" height="4.55" fill="#bcbcbc"/>
<text x="232.28" y="2461.03" font-size="67.00" font-weight="normal" fill="#000" stroke="#000" stroke-width="3.00" stroke-linejoin="round" textLength="64.40" lengthAdjust="spacingAndGlyphs">-3</text>
<rect x="345.00" y="2574.40" width="19.20" height="4.55" fill="#e6e6e6"/>
<rect x="345.00" y="2578.95" width="19.20" height="4.50" fill="#1e1e1e"/>
<rect x="345.00" y="2583.45" width="19.20" height="4.55" fill="#bcbcbc"/>
<text x="232.34" y="2603.08" font-size="67.00" font-weight="normal" fill="#000" stroke="#000" stroke-width="3.00" stroke-linejoin="round" textLength="63.24" lengthAdjust="spacingAndGlyphs">-4</text>
<rect x="345.00" y="2716.45" width="19.20" height="4.55" fill="#e6e6e6"/>
<rect x="345.00" y="2721.00" width="19.20" height="4.50" fill="#1e1e1e"/>
<rect x="345.00" y="2725.50" width="19.20" height="4.55" fill="#bcbcbc"/>
<text x="232.29" y="2745.13" font-size="67.00" font-weight="normal" fill="#000" stroke="#000" stroke-width="3.00" stroke-linejoin="round" textLength="64.24" lengthAdjust="spacingAndGlyphs">-5</text>
<rect x="345.00" y="2858.50" width="19.20" height="4.55" fill="#e6e6e6"/>
<rect x="345.00" y="2863.05" width="19.20" height="4.50" fill="#1e1e1e"/>
<rect x="345.00" y="2867.55" width="19.20" height="4.55" fill="#bcbcbc"/>
<text x="232.28" y="2887.18" font-size="67.00" font-weight="normal" fill="#000" stroke="#000" stroke-width="3.00" stroke-linejoin="round" textLength="64.40" lengthAdjust="spacingAndGlyphs">-6</text>
<rect x="345.00" y="3000.55" width="19.20" height="4.55" fill="#e6e6e6"/>
<rect x="345.00" y="3005.10" width="19.20" height="4.50" fill="#1e1e1e"/>
<rect x="345.00" y="3009.60" width="19.20" height="4.55" fill="#bcbcbc"/>
<text x="232.26" y="3029.23" font-size="67.00" font-weight="normal" fill="#000" stroke="#000" stroke-width="3.00" stroke-linejoin="round" textLength="64.92" lengthAdjust="spacingAndGlyphs">-7</text>
<text x="232.28" y="3171.28" font-size="67.00" font-weight="normal" fill="#000" stroke="#000" stroke-width="3.00" stroke-linejoin="round" textLength="64.36" lengthAdjust="spacingAndGlyphs">-8</text>
<rect x="345.00" y="3142.50" width="1960.00" height="4.50" fill="#e2e2e2"/>
<rect x="345.00" y="3147.00" width="1960.00" height="4.80" fill="#1a1a1a"/>
<rect x="345.00" y="3151.80" width="1960.00" height="4.90" fill="#bdbdbd"/>
<rect x="364.20" y="3147.00" width="4.70" height="29.00" fill="#444"/>
<rect x="847.00" y="3151.80" width="4.75" height="23.80" fill="#777"/>
<rect x="851.75" y="3151.80" width="4.75" height="23.80" fill="#474747"/>
<rect x="847.00" y="3175.60" width="9.50" height="3.40" fill="#d8d8d8"/>
<text x="831.88" y="3274.00" font-size="67.00" font-weight="normal" fill="#000" stroke="#000" stroke-width="3.00" stroke-linejoin="round" textLength="39.88" lengthAdjust="spacingAndGlyphs">5</text>
<rect x="1329.75" y="3151.80" width="4.75" height="23.80" fill="#777"/>
<rect x="1334.50" y="3151.80" width="4.75" height="23.80" fill="#474747"/>
<rect x="1329.75" y="3175.60" width="9.50" height="3.40" fill="#d8d8d8"/>
<text x="1293.00" y="3274.00" font-size="67.00" font-weight="normal" fill="#000" stroke="#000" stroke-width="3.00" stroke-linejoin="round" textLength="80.32" lengthAdjust="spacingAndGlyphs">10</text>
<rect x="1812.50" y="3151.80" width="4.75" height="23.80" fill="#777"/>
<rect x="1817.25" y="3151.80" width="4.75" height="23.80" fill="#474747"/>
<rect x="1812.50" y="3175.60" width="9.50" height="3.40" fill="#d8d8d8"/>
<text x="1775.73" y="3274.00" font-size="67.00" font-weight="normal" fill="#000" stroke="#000" stroke-width="3.00" stroke-linejoin="round" textLength="80.56" lengthAdjust="spacingAndGlyphs">15</text>
<rect x="2295.25" y="3151.80" width="4.75" height="23.80" fill="#777"/>
<rect x="2300.00" y="3151.80" width="4.75" height="23.80" fill="#474747"/>
<rect x="2295.25" y="3175.60" width="9.50" height="3.40" fill="#d8d8d8"/>
<text x="2260.46" y="3274.00" font-size="67.00" font-weight="normal" fill="#000" stroke="#000" stroke-width="3.00" stroke-linejoin="round" textLength="78.29" lengthAdjust="spacingAndGlyphs">20</text>
<text x="348.22" y="3274.00" font-size="67.00" font-weight="normal" fill="#000" stroke="#000" stroke-width="3.00" stroke-linejoin="round" textLength="39.56" lengthAdjust="spacingAndGlyphs">0</text>
<text x="-2838.57" y="0.00" font-size="72.00" font-weight="normal" fill="#000" stroke="#000" stroke-width="3.00" stroke-linejoin="round" textLength="518.74" lengthAdjust="spacingAndGlyphs" transform="translate(196.5,0) rotate(-90)">ln(molefraction)</text>
<text x="1026.08" y="3389.00" font-size="72.00" font-weight="normal" fill="#000" stroke="#000" stroke-width="3.00" stroke-linejoin="round" textLength="618.36" lengthAdjust="spacingAndGlyphs">Carbon number (n)</text>
<rect x="527" y="2846" width="234" height="186" fill="#000"/>
<text x="575.11" y="2972.50" font-size="104.00" font-weight="normal" fill="#fff" stroke="#fff" stroke-width="5.00" stroke-linejoin="round" textLength="137.27" lengthAdjust="spacingAndGlyphs">(B)</text>
<polyline points="465.6,2652.2 562.2,2615.3 658.8,2471.8 755.4,2491.7 852.0,2470.4 948.6,2567.0 1045.2,2541.4 1141.8,2601.1 1238.4,2648.0 1335.0,2720.4 1431.6,2784.3 1528.2,2849.7 1624.8,2939.2 1721.4,2993.1 1818.0,3059.9 1914.6,3089.7" fill="none" stroke="#3763a8" stroke-width="5.5" stroke-linejoin="round"/>
<circle cx="465.6" cy="2652.2" r="22.0" fill="#2064c6" stroke="#2a5aa8" stroke-width="2"/>
<circle cx="562.2" cy="2615.3" r="22.0" fill="#2064c6" stroke="#2a5aa8" stroke-width="2"/>
<circle cx="658.8" cy="2471.8" r="22.0" fill="#2064c6" stroke="#2a5aa8" stroke-width="2"/>
<circle cx="755.4" cy="2491.7" r="22.0" fill="#2064c6" stroke="#2a5aa8" stroke-width="2"/>
<circle cx="852.0" cy="2470.4" r="22.0" fill="#2064c6" stroke="#2a5aa8" stroke-width="2"/>
<circle cx="948.6" cy="2567.0" r="22.0" fill="#2064c6" stroke="#2a5aa8" stroke-width="2"/>
<circle cx="1045.2" cy="2541.4" r="22.0" fill="#2064c6" stroke="#2a5aa8" stroke-width="2"/>
<circle cx="1141.8" cy="2601.1" r="22.0" fill="#2064c6" stroke="#2a5aa8" stroke-width="2"/>
<circle cx="1238.4" cy="2648.0" r="22.0" fill="#2064c6" stroke="#2a5aa8" stroke-width="2"/>
<circle cx="1335.0" cy="2720.4" r="22.0" fill="#2064c6" stroke="#2a5aa8" stroke-width="2"/>
<circle cx="1431.6" cy="2784.3" r="22.0" fill="#2064c6" stroke="#2a5aa8" stroke-width="2"/>
<circle cx="1528.2" cy="2849.7" r="22.0" fill="#2064c6" stroke="#2a5aa8" stroke-width="2"/>
<circle cx="1624.8" cy="2939.2" r="22.0" fill="#2064c6" stroke="#2a5aa8" stroke-width="2"/>
<circle cx="1721.4" cy="2993.1" r="22.0" fill="#2064c6" stroke="#2a5aa8" stroke-width="2"/>
<circle cx="1818.0" cy="3059.9" r="22.0" fill="#2064c6" stroke="#2a5aa8" stroke-width="2"/>
<circle cx="1914.6" cy="3089.7" r="22.0" fill="#2064c6" stroke="#2a5aa8" stroke-width="2"/>
<polyline points="465.6,2630.9 562.2,2493.1 658.8,2540.0 755.4,2562.7 852.0,2633.8 948.6,2758.8 1045.2,2758.8 1141.8,2838.3 1238.4,2898.0 1335.0,2916.4 1431.6,2967.6" fill="none" stroke="#e08048" stroke-width="5.5" stroke-linejoin="round"/>
<circle cx="465.6" cy="2630.9" r="22.0" fill="#f57c26" stroke="#e07a3a" stroke-width="2"/>
<circle cx="562.2" cy="2493.1" r="22.0" fill="#f57c26" stroke="#e07a3a" stroke-width="2"/>
<circle cx="658.8" cy="2540.0" r="22.0" fill="#f57c26" stroke="#e07a3a" stroke-width="2"/>
<circle cx="755.4" cy="2562.7" r="22.0" fill="#f57c26" stroke="#e07a3a" stroke-width="2"/>
<circle cx="852.0" cy="2633.8" r="22.0" fill="#f57c26" stroke="#e07a3a" stroke-width="2"/>
<circle cx="948.6" cy="2758.8" r="22.0" fill="#f57c26" stroke="#e07a3a" stroke-width="2"/>
<circle cx="1045.2" cy="2758.8" r="22.0" fill="#f57c26" stroke="#e07a3a" stroke-width="2"/>
<circle cx="1141.8" cy="2838.3" r="22.0" fill="#f57c26" stroke="#e07a3a" stroke-width="2"/>
<circle cx="1238.4" cy="2898.0" r="22.0" fill="#f57c26" stroke="#e07a3a" stroke-width="2"/>
<circle cx="1335.0" cy="2916.4" r="22.0" fill="#f57c26" stroke="#e07a3a" stroke-width="2"/>
<circle cx="1431.6" cy="2967.6" r="22.0" fill="#f57c26" stroke="#e07a3a" stroke-width="2"/>
<polyline points="465.6,2596.8 562.2,2390.9 658.8,2424.9 755.4,2496.0 852.0,2602.5 948.6,2650.8 1045.2,2683.5 1141.8,2710.5 1238.4,2731.8 1335.0,2798.5 1431.6,2826.9 1528.2,2848.3 1624.8,2895.1 1721.4,2913.6 1818.0,2963.3 1914.6,3027.2" fill="none" stroke="#a0a0a0" stroke-width="5.5" stroke-linejoin="round"/>
<circle cx="465.6" cy="2596.8" r="22.0" fill="#a5a5a5" stroke="#9a9a9a" stroke-width="2"/>
<circle cx="562.2" cy="2390.9" r="22.0" fill="#a5a5a5" stroke="#9a9a9a" stroke-width="2"/>
<circle cx="658.8" cy="2424.9" r="22.0" fill="#a5a5a5" stroke="#9a9a9a" stroke-width="2"/>
<circle cx="755.4" cy="2496.0" r="22.0" fill="#a5a5a5" stroke="#9a9a9a" stroke-width="2"/>
<circle cx="852.0" cy="2602.5" r="22.0" fill="#a5a5a5" stroke="#9a9a9a" stroke-width="2"/>
<circle cx="948.6" cy="2650.8" r="22.0" fill="#a5a5a5" stroke="#9a9a9a" stroke-width="2"/>
<circle cx="1045.2" cy="2683.5" r="22.0" fill="#a5a5a5" stroke="#9a9a9a" stroke-width="2"/>
<circle cx="1141.8" cy="2710.5" r="22.0" fill="#a5a5a5" stroke="#9a9a9a" stroke-width="2"/>
<circle cx="1238.4" cy="2731.8" r="22.0" fill="#a5a5a5" stroke="#9a9a9a" stroke-width="2"/>
<circle cx="1335.0" cy="2798.5" r="22.0" fill="#a5a5a5" stroke="#9a9a9a" stroke-width="2"/>
<circle cx="1431.6" cy="2826.9" r="22.0" fill="#a5a5a5" stroke="#9a9a9a" stroke-width="2"/>
<circle cx="1528.2" cy="2848.3" r="22.0" fill="#a5a5a5" stroke="#9a9a9a" stroke-width="2"/>
<circle cx="1624.8" cy="2895.1" r="22.0" fill="#a5a5a5" stroke="#9a9a9a" stroke-width="2"/>
<circle cx="1721.4" cy="2913.6" r="22.0" fill="#a5a5a5" stroke="#9a9a9a" stroke-width="2"/>
<circle cx="1818.0" cy="2963.3" r="22.0" fill="#a5a5a5" stroke="#9a9a9a" stroke-width="2"/>
<circle cx="1914.6" cy="3027.2" r="22.0" fill="#a5a5a5" stroke="#9a9a9a" stroke-width="2"/>
<polyline points="465.6,2751.7 562.2,2325.5 658.8,2463.3 755.4,2545.7 852.0,2656.5 948.6,2693.4 1045.2,2716.1 1141.8,2819.8 1238.4,2844.0 1335.0,2939.2" fill="none" stroke="#e8bc30" stroke-width="5.5" stroke-linejoin="round"/>
<circle cx="465.6" cy="2751.7" r="22.0" fill="#ffc000" stroke="#f0b800" stroke-width="2"/>
<circle cx="562.2" cy="2325.5" r="22.0" fill="#ffc000" stroke="#f0b800" stroke-width="2"/>
<circle cx="658.8" cy="2463.3" r="22.0" fill="#ffc000" stroke="#f0b800" stroke-width="2"/>
<circle cx="755.4" cy="2545.7" r="22.0" fill="#ffc000" stroke="#f0b800" stroke-width="2"/>
<circle cx="852.0" cy="2656.5" r="22.0" fill="#ffc000" stroke="#f0b800" stroke-width="2"/>
<circle cx="948.6" cy="2693.4" r="22.0" fill="#ffc000" stroke="#f0b800" stroke-width="2"/>
<circle cx="1045.2" cy="2716.1" r="22.0" fill="#ffc000" stroke="#f0b800" stroke-width="2"/>
<circle cx="1141.8" cy="2819.8" r="22.0" fill="#ffc000" stroke="#f0b800" stroke-width="2"/>
<circle cx="1238.4" cy="2844.0" r="22.0" fill="#ffc000" stroke="#f0b800" stroke-width="2"/>
<circle cx="1335.0" cy="2939.2" r="22.0" fill="#ffc000" stroke="#f0b800" stroke-width="2"/>
<polyline points="465.6,2662.2 562.2,2386.6 658.8,2420.7 755.4,2493.1 852.0,2589.7 948.6,2626.7 1045.2,2665.0 1141.8,2743.1 1238.4,2828.4 1335.0,2978.9" fill="none" stroke="#4a8cbc" stroke-width="5.5" stroke-linejoin="round"/>
<circle cx="465.6" cy="2662.2" r="22.0" fill="#2399dd" stroke="#3a8cc4" stroke-width="2"/>
<circle cx="562.2" cy="2386.6" r="22.0" fill="#2399dd" stroke="#3a8cc4" stroke-width="2"/>
<circle cx="658.8" cy="2420.7" r="22.0" fill="#2399dd" stroke="#3a8cc4" stroke-width="2"/>
<circle cx="755.4" cy="2493.1" r="22.0" fill="#2399dd" stroke="#3a8cc4" stroke-width="2"/>
<circle cx="852.0" cy="2589.7" r="22.0" fill="#2399dd" stroke="#3a8cc4" stroke-width="2"/>
<circle cx="948.6" cy="2626.7" r="22.0" fill="#2399dd" stroke="#3a8cc4" stroke-width="2"/>
<circle cx="1045.2" cy="2665.0" r="22.0" fill="#2399dd" stroke="#3a8cc4" stroke-width="2"/>
<circle cx="1141.8" cy="2743.1" r="22.0" fill="#2399dd" stroke="#3a8cc4" stroke-width="2"/>
<circle cx="1238.4" cy="2828.4" r="22.0" fill="#2399dd" stroke="#3a8cc4" stroke-width="2"/>
<circle cx="1335.0" cy="2978.9" r="22.0" fill="#2399dd" stroke="#3a8cc4" stroke-width="2"/>
<rect x="1856" y="1955.0" width="472.5" height="117.0" fill="#1d98d6" stroke="#4a94c4" stroke-width="3"/>
<rect x="1856" y="2090.0" width="472.5" height="108.0" fill="#cfdbed"/>
<rect x="1856" y="2206.0" width="472.5" height="116.0" fill="#e9edf6"/>
<rect x="1856" y="2329.0" width="472.5" height="115.0" fill="#cfdbed"/>
<rect x="1856" y="2450.0" width="472.5" height="116.0" fill="#e9edf6"/>
<rect x="1856" y="2573.0" width="472.5" height="114.5" fill="#cfdbed"/>
<rect x="2085.0" y="1953.0" width="7.0" height="734.5" fill="#f4f9ff"/>
<text x="1896.53" y="2037.50" font-size="63.00" font-weight="normal" fill="#e4f6ff" stroke="#e4f6ff" stroke-width="3.00" stroke-linejoin="round" textLength="107.10" lengthAdjust="spacingAndGlyphs">Cat.</text>
<text x="2132.77" y="2036.50" font-size="56.00" font-weight="normal" fill="#e4f6ff" stroke="#e4f6ff" stroke-width="3.00" stroke-linejoin="round" textLength="37.61" lengthAdjust="spacingAndGlyphs">α</text>
<text x="2189.02" y="2052.50" font-size="44.00" font-weight="normal" fill="#e4f6ff" stroke="#e4f6ff" stroke-width="1.00" stroke-linejoin="round" textLength="97.55" lengthAdjust="spacingAndGlyphs">(Oxy)</text>
<text x="1895.31" y="2164.50" font-size="62.50" font-weight="normal" fill="#000" stroke="#000" stroke-width="3.20" stroke-linejoin="round" textLength="61.01" lengthAdjust="spacingAndGlyphs">Fe</text>
<text x="2147.18" y="2164.50" font-size="62.50" font-weight="normal" fill="#000" stroke="#000" stroke-width="3.20" stroke-linejoin="round" textLength="120.44" lengthAdjust="spacingAndGlyphs">0.76</text>
<text x="1895.03" y="2284.50" font-size="62.50" font-weight="normal" fill="#000" stroke="#000" stroke-width="3.20" stroke-linejoin="round" textLength="108.45" lengthAdjust="spacingAndGlyphs">LiFe</text>
<text x="2147.17" y="2284.50" font-size="62.50" font-weight="normal" fill="#000" stroke="#000" stroke-width="3.20" stroke-linejoin="round" textLength="120.85" lengthAdjust="spacingAndGlyphs">0.72</text>
<text x="1894.92" y="2407.00" font-size="62.50" font-weight="normal" fill="#000" stroke="#000" stroke-width="3.20" stroke-linejoin="round" textLength="139.62" lengthAdjust="spacingAndGlyphs">NaFe</text>
<text x="2147.17" y="2407.00" font-size="62.50" font-weight="normal" fill="#000" stroke="#000" stroke-width="3.20" stroke-linejoin="round" textLength="120.85" lengthAdjust="spacingAndGlyphs">0.77</text>
<text x="1895.14" y="2528.50" font-size="62.50" font-weight="normal" fill="#000" stroke="#000" stroke-width="3.20" stroke-linejoin="round" textLength="99.67" lengthAdjust="spacingAndGlyphs">KFe</text>
<text x="2147.18" y="2528.50" font-size="62.50" font-weight="normal" fill="#000" stroke="#000" stroke-width="3.20" stroke-linejoin="round" textLength="120.44" lengthAdjust="spacingAndGlyphs">0.73</text>
<text x="1897.00" y="2650.75" font-size="62.50" font-weight="normal" fill="#000" stroke="#000" stroke-width="3.20" stroke-linejoin="round" textLength="122.27" lengthAdjust="spacingAndGlyphs">CsFe</text>
<text x="2147.18" y="2650.75" font-size="62.50" font-weight="normal" fill="#000" stroke="#000" stroke-width="3.20" stroke-linejoin="round" textLength="120.75" lengthAdjust="spacingAndGlyphs">0.71</text>
</svg></body></html>
